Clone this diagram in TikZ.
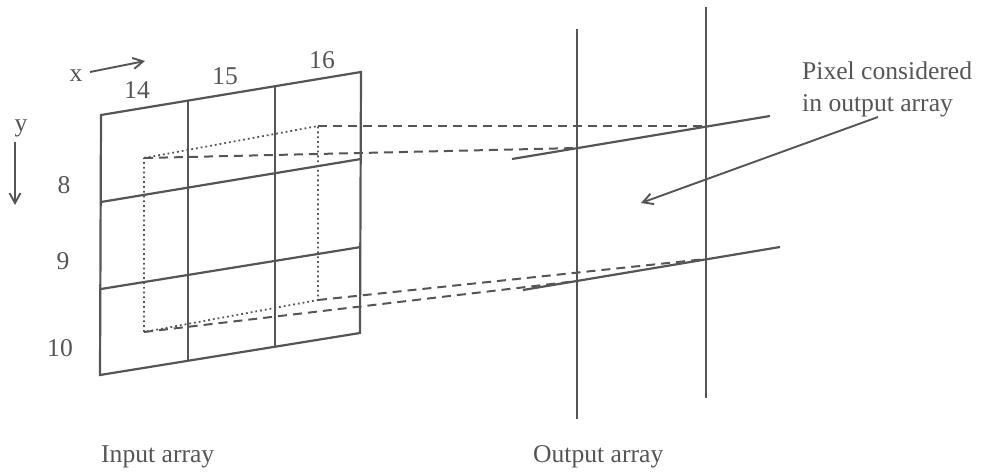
\documentclass[tikz,border=0pt]{standalone}
\usepackage{fontspec}
\setmainfont{Liberation Serif}
\usetikzlibrary{arrows.meta}
\definecolor{ink}{RGB}{85,85,85}
\begin{document}
\begin{tikzpicture}[x=1pt,y=-1pt,
  solidln/.style={draw=ink,line width=2.2pt},
  dashln/.style={draw=ink,line width=2pt,dash pattern=on 9pt off 6pt},
  dotln/.style={draw=ink,line width=1.8pt,dash pattern=on 1.8pt off 3pt},
  lbl/.style={text=ink,font=\fontsize{25.6}{32}\selectfont,inner sep=0pt},
  arr/.style={draw=ink,line width=1.9pt,-{Straight Barb[length=10pt,width=11pt]}}]
\useasboundingbox (0,0) rectangle (983,473);
% input grid corners
\coordinate (TL) at (101,115);
\coordinate (TR) at (361,72);
\coordinate (BL) at (100,375);
\coordinate (BR) at (360,333);
\coordinate (R1a) at (101,202); \coordinate (R1b) at (361,159);
\coordinate (R2a) at (101,289); \coordinate (R2b) at (361,247);
\coordinate (C1a) at (188,100); \coordinate (C1b) at (188,361);
\coordinate (C2a) at (275,86);  \coordinate (C2b) at (275,347);
\draw[solidln] (TL) -- (TR) -- (BR) -- (BL) -- cycle;
\draw[solidln] (R1a) -- (R1b);
\draw[solidln] (R2a) -- (R2b);
\draw[solidln] (C1a) -- (C1b);
\draw[solidln] (C2a) -- (C2b);
% back-projected pixel (dotted)
\coordinate (A) at (144,158);
\coordinate (B) at (318,126);
\coordinate (C) at (318,300);
\coordinate (D) at (144,332);
\draw[dotln] (A) -- (B) -- (C) -- (D) -- cycle;
% output array
\coordinate (V1a) at (577,29);  \coordinate (V1b) at (577,419);
\coordinate (V2a) at (706,7);   \coordinate (V2b) at (706,398);
\coordinate (H1a) at (512,159); \coordinate (H1b) at (770,116);
\coordinate (H2a) at (523,290); \coordinate (H2b) at (780,247);
\draw[solidln] (V1a) -- (V1b);
\draw[solidln] (V2a) -- (V2b);
\draw[solidln] (H1a) -- (H1b);
\draw[solidln] (H2a) -- (H2b);
\coordinate (P1) at (577,148);
\coordinate (P2) at (706,126);
\coordinate (P3) at (706,259);
\coordinate (P4) at (577,281);
% projection lines
\draw[dashln] (A) -- (P1);
\draw[dashln] (B) -- (P2);
\draw[dashln] (C) -- (P3);
\draw[dashln] (D) -- (P4);
% axis arrows
\coordinate (xa) at (90,72);  \coordinate (xb) at (145,61);
\coordinate (ya) at (15,142); \coordinate (yb) at (15,205);
\draw[arr] (xa) -- (xb);
\draw[arr] (ya) -- (yb);
% labels
\node[lbl] (lx) at (76,76) {x};
\node[lbl] (ly) at (21,128) {y};
\node[lbl] (l14) at (137,90) {14};
\node[lbl] (l15) at (225,76) {15};
\node[lbl] (l16) at (322,60) {16};
\node[lbl] (l8) at (64,185) {8};
\node[lbl] (l9) at (63,261) {9};
\node[lbl] (l10) at (60,348) {10};
\node[lbl,anchor=base west] (lin) at (101,462) {Input array};
\node[lbl,anchor=base west] (lout) at (533,462) {Output array};
\node[lbl,anchor=base west] (lp1) at (802,80) {Pixel considered};
\node[lbl,anchor=base west] (lp2) at (802,112) {in output array};
% pointer arrow
\coordinate (pa) at (878,117);
\coordinate (pb) at (641,203);
\draw[arr] (pa) -- (pb);
\end{tikzpicture}
\end{document}
